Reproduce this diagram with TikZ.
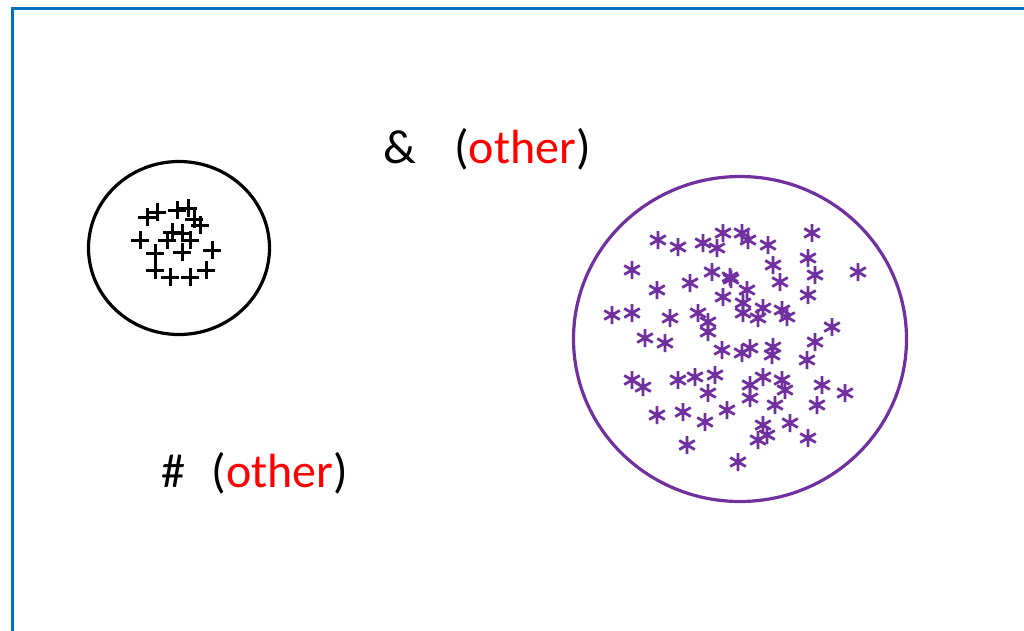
\documentclass[tikz,border=0pt]{standalone}
\usepackage{fontspec}
\setmainfont{Carlito}
\usetikzlibrary{shapes.geometric}
\definecolor{bordblue}{HTML}{0070C0}
\definecolor{purp}{HTML}{7030A0}
\definecolor{myred}{HTML}{FF0000}
\begin{document}
\begin{tikzpicture}[x=1pt,y=-1pt,
  ring/.style={line width=3.2pt,draw,ellipse,inner sep=0pt,outer sep=0pt},
  plusmark/.style={line width=3pt,black},
  starmark/.style={line width=2.8pt,purp},
  lbl/.style={font=\fontsize{48}{56}\selectfont,inner sep=0pt,anchor=base west}]
\useasboundingbox (0,0) rectangle (1024,630);
\draw[bordblue,line width=3.6pt] (1030,8.5) -- (12.5,8.5) -- (12.5,640);
\node[ring,black,minimum width=181pt,minimum height=173pt] (left) at (179,248) {};
\node[ring,purp,minimum width=333pt,minimum height=325pt] (right) at (740,339) {};
\node[lbl] (amp) at (383,163) {\&\hspace{0.8em}(\textcolor{myred}{other})};
\node[lbl] (hash) at (161,487) {\#\hspace{0.55em}(\textcolor{myred}{other})};
\foreach \x/\y in {147/217,157/212,177/210,188/208,194/219,200/225,140/240,172/232,167/240,182/233,190/240,212/250,155/253,182/252,155/270,170/277,190/277,206/270}
  \draw[plusmark] (\x-9,\y) -- (\x+9,\y) (\x,\y-9) -- (\x,\y+9);
\foreach \x/\y in {658/240,678/247,703/243,717/248,723/233,742/233,748/240,768/245,812/233,632/270,712/272,730/277,731/279,773/265,808/258,815/275,858/272,657/290,690/283,723/297,747/290,780/282,808/295,612/315,632/313,670/318,698/313,708/322,743/303,743/313,763/308,758/318,782/310,787/317,832/327,708/332,645/338,665/343,722/350,742/353,750/348,773/347,772/355,815/342,807/360,632/380,643/387,678/380,695/377,715/375,708/393,750/385,763/377,750/398,782/380,785/390,775/405,822/385,845/393,817/405,657/415,683/412,705/422,727/410,763/425,767/435,758/440,790/423,808/438,687/445,738/462}
  \draw[starmark] (\x,\y-9) -- (\x,\y+9) (\x-7.8,\y-4.5) -- (\x+7.8,\y+4.5) (\x-7.8,\y+4.5) -- (\x+7.8,\y-4.5);
\end{tikzpicture}
\end{document}
